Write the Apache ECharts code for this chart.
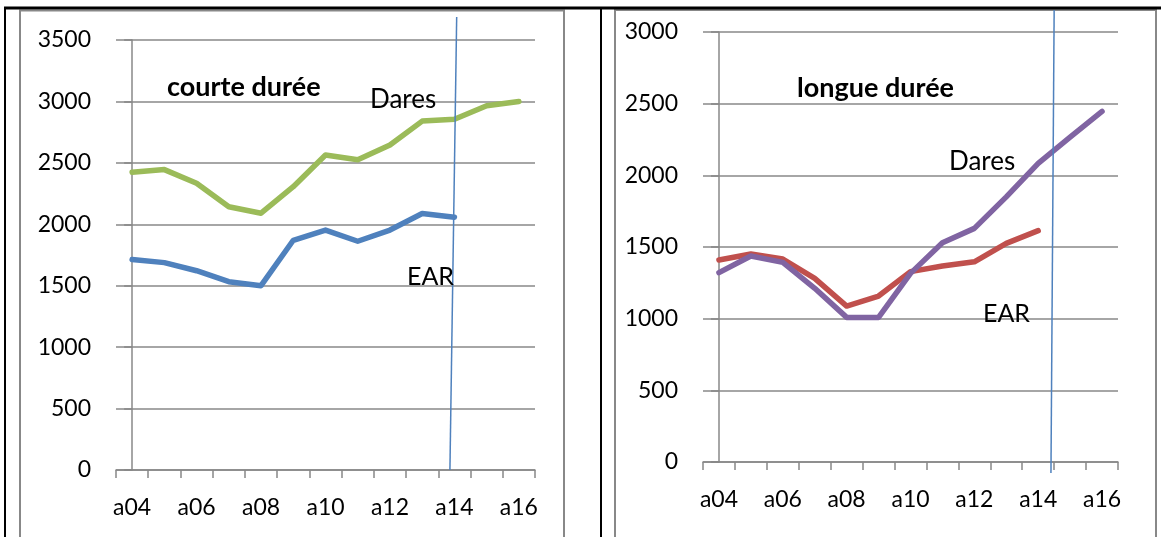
<!DOCTYPE html>
<html>
<head>
<meta charset="utf-8">
<script src="https://cdn.jsdelivr.net/npm/echarts@6/dist/echarts.min.js"></script>
<style>
html,body{margin:0;padding:0;background:#fff;}
#c{width:1169px;height:537px;}
</style>
</head>
<body>
<div id="c"></div>
<script>
// ---- data ----
const categories = ['a04','a05','a06','a07','a08','a09','a10','a11','a12','a13','a14','a15','a16'];
const daresCourte = [2423, 2445, 2334, 2143, 2090, 2306, 2564, 2525, 2645, 2840, 2855, 2965, 3000];
const earCourte   = [1713, 1688, 1622, 1533, 1500, 1870, 1953, 1862, 1953, 2088, 2057];
const earLongue   = [1409, 1451, 1416, 1281, 1088, 1158, 1328, 1367, 1397, 1525, 1614];
const daresLongue = [1321, 1437, 1393, 1212, 1009, 1009, 1316, 1530, 1630, 1850, 2083, 2267, 2446];
const leftTicks = [0, 500, 1000, 1500, 2000, 2500, 3000, 3500];
const rightTicks = [0, 500, 1000, 1500, 2000, 2500, 3000];
// vertical cut line (category-index, value)
const cutLeft  = [[9.86, 0], [10.07, 3687]];
const cutRight = [[10.40, -77], [10.50, 3153]];

const FONT = 'Lato';
const GRAY = '#888888';
const C_GREEN = '#9BBB59', C_BLUE = '#4F81BD', C_RED = '#C0504D', C_PURPLE = '#8064A2';

function catAxis(gi, margin){
  return {
    type:'category', gridIndex:gi, data:categories, boundaryGap:true,
    axisLine:{show:true, lineStyle:{color:GRAY, width:1.5}},
    axisTick:{show:true, interval:0, length:8, lineStyle:{color:GRAY, width:1.5}},
    axisLabel:{interval:1, margin:margin, color:'#000', fontFamily:FONT, fontSize:23}
  };
}
function hiddenX(gi){
  return {type:'value', gridIndex:gi, min:-0.5, max:12.5, show:false};
}
function valAxis(gi, ticks){
  return {
    type:'value', gridIndex:gi, min:ticks[0], max:ticks[ticks.length-1], interval:ticks[1]-ticks[0],
    axisLine:{show:true, lineStyle:{color:GRAY, width:1.5}},
    axisTick:{show:true, length:8, lineStyle:{color:GRAY, width:1.5}},
    splitLine:{show:true, lineStyle:{color:GRAY, width:1.5}},
    axisLabel:{margin:25, color:'#000', fontFamily:FONT, fontSize:23, formatter:function(v){return String(v);}}
  };
}
function lineS(xi, yi, data, color, z){
  return {type:'line', xAxisIndex:xi, yAxisIndex:yi, data:data, symbol:'none',
    lineStyle:{color:color, width:5.5, cap:'round', join:'round'}, z:z, animation:false};
}
function cutS(xi, yi, data){
  return {type:'line', xAxisIndex:xi, yAxisIndex:yi, data:data, symbol:'none', clip:false,
    lineStyle:{color:C_BLUE, width:1.5}, z:5, animation:false};
}
function txt(x, y, s, bold, size){
  return {type:'text', left:x, top:y, style:{text:s, fill:'#000', font:(bold?'bold ':'')+size+'px '+FONT}, z:50};
}

const chart = echarts.init(document.getElementById('c'), null, {renderer:'canvas'});
chart.setOption({
  animation:false,
  backgroundColor:'#fff',
  grid:[
    {left:116, right:634, top:40, bottom:67},
    {left:703, right:51, top:32, bottom:75}
  ],
  xAxis:[catAxis(0, 26), catAxis(1, 26), hiddenX(0), hiddenX(1)],
  yAxis:[valAxis(0, leftTicks), valAxis(1, rightTicks)],
  series:[
    lineS(0, 0, daresCourte, C_GREEN, 3),
    lineS(0, 0, earCourte, C_BLUE, 3),
    lineS(1, 1, earLongue, C_RED, 3),
    lineS(1, 1, daresLongue, C_PURPLE, 4),
    cutS(2, 0, cutLeft),
    cutS(3, 1, cutRight)
  ],
  graphic:[
    {type:'rect', shape:{x:20, y:10.5, width:544, height:540}, style:{fill:'none', stroke:GRAY, lineWidth:2}, z:-1, silent:true},
    {type:'rect', shape:{x:615, y:10, width:541, height:540}, style:{fill:'none', stroke:GRAY, lineWidth:2}, z:-1, silent:true},
    {type:'line', shape:{x1:4, y1:8, x2:1161, y2:8}, style:{stroke:'#000', lineWidth:3}, z:60, silent:true},
    {type:'line', shape:{x1:5, y1:7, x2:5, y2:537}, style:{stroke:'#000', lineWidth:2}, z:60, silent:true},
    {type:'line', shape:{x1:601, y1:7, x2:601, y2:537}, style:{stroke:'#000', lineWidth:2}, z:60, silent:true},
    txt(167, 74, 'courte durée', true, 27),
    txt(370, 87, 'Dares', false, 26),
    txt(407, 264, 'EAR', false, 25),
    txt(797, 75, 'longue durée', true, 27),
    txt(949, 149, 'Dares', false, 26),
    txt(983, 301, 'EAR', false, 25)
  ]
});
</script>
</body>
</html>
